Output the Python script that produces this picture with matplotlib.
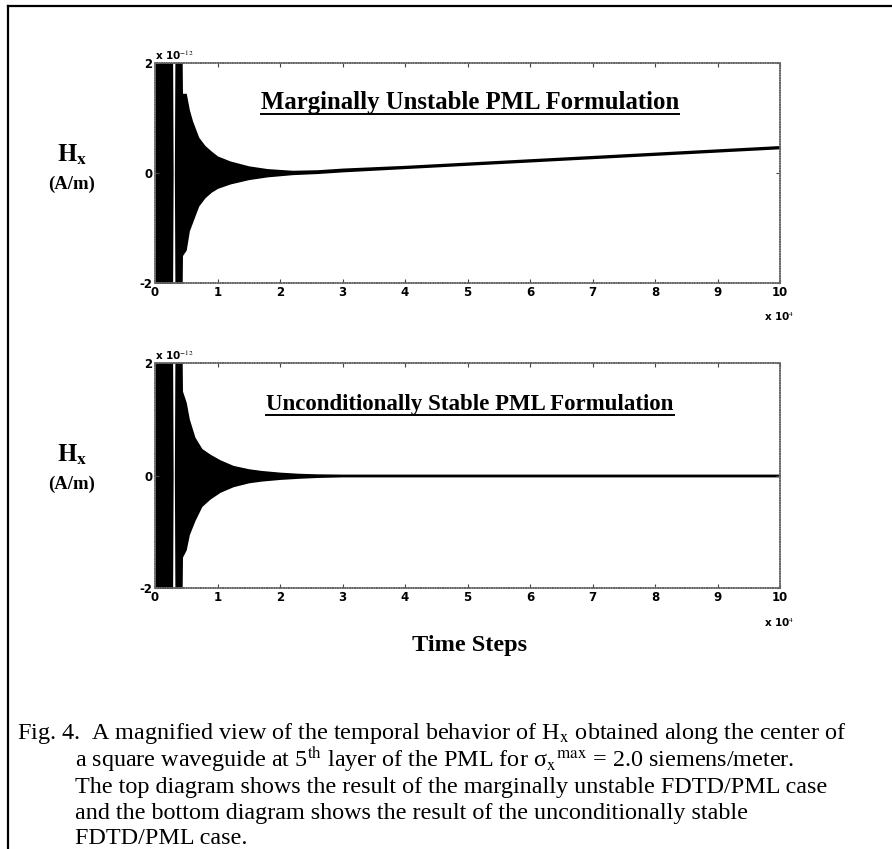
import numpy as np
import matplotlib
matplotlib.use("Agg")
import matplotlib.pyplot as plt
from matplotlib.lines import Line2D

plt.rcParams['font.family'] = ['Liberation Serif', 'DejaVu Serif']
plt.rcParams['mathtext.fontset'] = 'stix'

# ---------------------- Data ---------------------- #
# time in units of 1e4 steps, envelope of H_x in units of 1e-12 A/m
t_top = [0, 0.27, 0.28, 0.29, 0.31, 0.32, 0.43, 0.44, 0.50, 0.55, 0.60, 0.70,
         0.80, 0.90, 1.0, 1.2, 1.5, 1.8, 2.2, 2.6, 3, 4, 5, 6, 7, 8, 9, 10]
upper_top = [2.5, 2.5, 2.5, 0.0, 0.0, 2.5, 2.5, 1.45, 1.45, 1.15, 0.95, 0.65,
             0.50, 0.40, 0.31, 0.22, 0.13, 0.08, 0.05, 0.06, 0.09, 0.14, 0.20,
             0.26, 0.32, 0.38, 0.44, 0.50]
lower_top = [-2.5, -2.5, -2.5, 0.0, 0.0, -2.5, -2.5, -1.5, -1.4, -1.05, -0.90,
             -0.60, -0.45, -0.35, -0.28, -0.20, -0.12, -0.07, -0.03, -0.01,
             0.02, 0.08, 0.14, 0.20, 0.26, 0.32, 0.38, 0.44]

t_bot = [0, 0.27, 0.28, 0.29, 0.31, 0.32, 0.43, 0.44, 0.50, 0.55, 0.64, 0.75,
         0.88, 1.04, 1.25, 1.5, 1.7, 2.0, 2.3, 2.6, 3, 4, 5, 6, 7, 8, 9, 10]
upper_bot = [2.5, 2.5, 2.5, 0.0, 0.0, 2.5, 2.5, 1.5, 1.3, 1.0, 0.68, 0.48,
             0.38, 0.28, 0.18, 0.12, 0.09, 0.06, 0.04, 0.03, 0.025, 0.025,
             0.025, 0.025, 0.025, 0.025, 0.025, 0.025]
lower_bot = [-2.5, -2.5, -2.5, 0.0, 0.0, -2.5, -2.5, -1.45, -1.32, -1.05, -0.80,
             -0.55, -0.42, -0.30, -0.20, -0.13, -0.10, -0.07, -0.05, -0.035,
             -0.025, -0.025, -0.025, -0.025, -0.025, -0.025, -0.025, -0.025]

x_ticks = [0, 1, 2, 3, 4, 5, 6, 7, 8, 9, 10]
y_ticks = [-2, 0, 2]

titles = ["Marginally Unstable PML Formulation",
          "Unconditionally Stable PML Formulation"]
title_sizes = [17.8, 16.5]

caption = [
    "Fig. 4.  A magnified view of the temporal behavior of H$_\\mathrm{x}$ obtained along the center of",
    "a square waveguide at 5$^\\mathrm{th}$ layer of the PML for σ$_\\mathrm{x}$$^\\mathrm{max}$ = 2.0 siemens/meter.",
    "The top diagram shows the result of the marginally unstable FDTD/PML case",
    "and the bottom diagram shows the result of the unconditionally stable",
    "FDTD/PML case.",
]

# ---------------------- Figure ---------------------- #
W, H = 892, 849
fig = plt.figure(figsize=(W / 100, H / 100), dpi=100)
fig.patch.set_facecolor('white')


def fx(px):
    return px / W


def fy(py):
    return 1 - py / H


# outer page frame (top and left edges)
fig.add_artist(Line2D([fx(8), 1.0], [fy(6), fy(6)], color='black', lw=1.6))
fig.add_artist(Line2D([fx(8), fx(8)], [0.0, fy(6)], color='black', lw=1.6))

panels = [
    (t_top, upper_top, lower_top, 63, 283, 155),
    (t_bot, upper_bot, lower_bot, 363, 588, 455),
]

axes = []
for k, (t, up, lo, top_px, bot_px, hx_y) in enumerate(panels):
    ax = fig.add_axes([fx(155), fy(bot_px), fx(780) - fx(155), (bot_px - top_px) / H])
    ax.fill_between(t, lo, up, color='black', lw=0)
    ax.set_xlim(0, 10)
    ax.set_ylim(-2, 2)
    ax.set_xticks(x_ticks)
    ax.set_yticks(y_ticks)
    ax.set_xticklabels([str(v) for v in x_ticks])
    ax.set_yticklabels(['-2', '0', '2'])
    ax.tick_params(direction='in', length=3, width=0.8, color='#444444',
                   top=True, right=True, labelsize=8.5, pad=2)
    for lab in ax.get_xticklabels() + ax.get_yticklabels():
        lab.set_fontweight('bold')
        lab.set_family('DejaVu Sans')
    for sp in ax.spines.values():
        sp.set_color('#666666')
        sp.set_linewidth(1.1)
        sp.set_linestyle((0, (1, 0.6)))

    # scale factors
    ax.text(0.0, 1.005, r'x 10$^{-12}$', transform=ax.transAxes, fontsize=7.5,
            family='DejaVu Sans', fontweight='bold', ha='left', va='bottom')
    ax.text(0.975, -0.125, r'x 10$^{4}$', transform=ax.transAxes, fontsize=7.5,
            family='DejaVu Sans', fontweight='bold', ha='left', va='top')

    # underlined panel title
    ax.text(0.504, 0.79, titles[k], transform=ax.transAxes, fontsize=title_sizes[k],
            fontweight='bold', ha='center', va='baseline')

    # y label
    fig.text(fx(72), fy(hx_y), r'$\mathbf{H}_\mathbf{x}$', fontsize=18,
             ha='center', va='center')
    fig.text(fx(72), fy(hx_y + 29), '(A/m)', fontsize=13.5, fontweight='bold',
             ha='center', va='center')
    axes.append(ax)

fig.text(fx(470), fy(645), 'Time Steps', fontsize=17.5, fontweight='bold',
         ha='center', va='center')

# caption
cap_base = [739, 767, 793, 819, 844]
for i, line in enumerate(caption):
    x0 = 17 if i == 0 else 75
    fig.text(fx(x0), fy(cap_base[i]), line, fontsize=17.4, ha='left', va='baseline')

# underline the panel titles
fig.canvas.draw()
renderer = fig.canvas.get_renderer()
for k, ax in enumerate(axes):
    txt = [tx for tx in ax.texts if tx.get_text() == titles[k]][0]
    bb = txt.get_window_extent(renderer).transformed(fig.transFigure.inverted())
    base_y = ax.transAxes.transform((0, 0.79))
    base_y = fig.transFigure.inverted().transform(base_y)[1] - 4.5 / H
    fig.add_artist(Line2D([bb.x0, bb.x1], [base_y, base_y], color='black', lw=1.4))

fig.savefig('out.png', dpi=100, facecolor='white')
